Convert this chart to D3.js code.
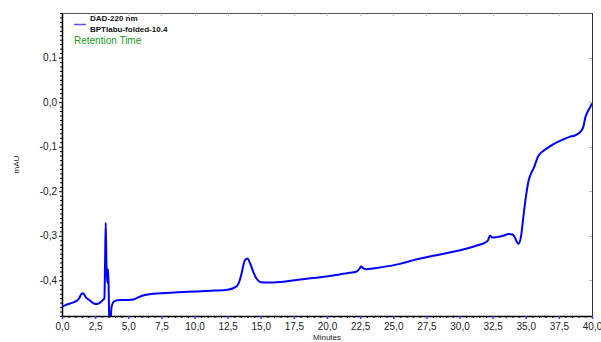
<!DOCTYPE html>
<html>
<head>
<meta charset="utf-8">
<script src="https://cdn.jsdelivr.net/npm/d3@7"></script>
<style>
  body { margin: 0; background: #fff; }
  text { font-family: "Liberation Sans", Arial, sans-serif; }
</style>
</head>
<body>
<div id="chart"></div>
<script>
// chromatogram trace (minutes, mAU)
var times = [0.0, 0.3, 0.6, 0.9, 1.1, 1.3, 1.45, 1.6, 1.8, 2.1, 2.4, 2.6, 2.87, 3.1, 3.2, 3.25, 3.3, 3.36, 3.42, 3.48, 3.53, 3.58, 3.66, 3.74, 3.85, 4.0,
  4.4, 5.0, 5.4, 5.7, 6.0, 6.6, 7.5, 8.5, 10.0, 11.5, 12.5, 13.15, 13.35, 13.55, 13.8, 14.0, 14.2, 14.45, 14.7, 15.0, 15.7,
  17.0, 18.0, 19.5, 20.5, 21.5, 22.25, 22.45, 22.57, 22.75, 23.0, 24.0, 25.5, 26.6, 28.0, 29.5, 30.5, 31.5, 31.9, 32.15,
  32.3, 32.5, 32.8, 33.3, 33.7, 34.0, 34.15, 34.3, 34.45, 34.65, 34.85, 35.0, 35.2, 35.4, 35.6, 35.95, 36.3, 36.8, 37.3,
  37.8, 38.3, 38.7, 39.0, 39.2, 39.35, 39.5, 39.7, 39.85, 40.0];
var values = [-0.459, -0.455, -0.452, -0.449, -0.446, -0.440, -0.431, -0.429, -0.438, -0.445, -0.452, -0.453, -0.450, -0.444, -0.440, -0.36, -0.271, -0.37, -0.405, -0.375, -0.43, -0.50, -0.49, -0.46, -0.450, -0.446,
  -0.444, -0.444, -0.443, -0.439, -0.435, -0.431, -0.429, -0.427, -0.425, -0.423, -0.421, -0.414, -0.405, -0.385, -0.355, -0.351, -0.362, -0.382, -0.397, -0.404, -0.405,
  -0.402, -0.398, -0.393, -0.389, -0.384, -0.380, -0.374, -0.369, -0.373, -0.375, -0.371, -0.363, -0.354, -0.345, -0.336, -0.329, -0.320, -0.316, -0.310,
  -0.300, -0.304, -0.303, -0.300, -0.296, -0.297, -0.302, -0.312, -0.318, -0.300, -0.250, -0.215, -0.178, -0.160, -0.148, -0.121, -0.110, -0.100, -0.091,
  -0.084, -0.078, -0.075, -0.070, -0.064, -0.055, -0.034, -0.020, -0.012, -0.003];
var xTicks = [0, 2.5, 5, 7.5, 10, 12.5, 15, 17.5, 20, 22.5, 25, 27.5, 30, 32.5, 35, 37.5, 40];
var yTicks = [-0.4, -0.3, -0.2, -0.1, 0.0, 0.1];
var legendLines = ["DAD-220 nm", "BPTIabu-folded-10.4"];

function draw() {
  var w = 601, h = 342;
  var pLeft = 62, pRight = 592, pTop = 13, pBottom = 316;
  var fmt = function(d) { return d3.format(".1f")(d).replace(".", ",").replace("\u2212", "-"); };

  var svg = d3.select("#chart").append("svg")
    .attr("width", w)
    .attr("height", h);

  var xScale = d3.scaleLinear().domain([0, 40]).range([pLeft, pRight]);
  var yScale = d3.scaleLinear().domain([-0.48, 0.2]).range([pBottom, pTop]);

  // frame: top and right in grey with small inward ticks
  svg.append("line").attr("x1", pLeft).attr("x2", pRight).attr("y1", pTop + 0.5).attr("y2", pTop + 0.5)
    .attr("stroke", "#555").attr("stroke-width", 1);
  svg.append("line").attr("x1", pRight + 0.5).attr("x2", pRight + 0.5).attr("y1", pTop).attr("y2", pBottom)
    .attr("stroke", "#333").attr("stroke-width", 1);
  svg.selectAll(".topTick").data(xTicks.slice(1, -1)).enter().append("line")
    .attr("x1", d => Math.round(xScale(d)) + 0.5).attr("x2", d => Math.round(xScale(d)) + 0.5)
    .attr("y1", pTop).attr("y2", pTop + 3)
    .attr("stroke", "#bbb");
  svg.selectAll(".rightTick").data(yTicks).enter().append("line")
    .attr("x1", pRight - 3).attr("x2", pRight)
    .attr("y1", d => Math.round(yScale(d)) + 0.5).attr("y2", d => Math.round(yScale(d)) + 0.5)
    .attr("stroke", "#bbb");

  // minor ticks
  var xMinor = d3.range(0, 40.01, 0.5).filter(d => xTicks.indexOf(d) < 0);
  var yMinor = d3.range(-0.48, 0.2001, 0.01).map(d => Math.round(d * 100) / 100).filter(d => yTicks.indexOf(d) < 0);

  svg.append("g")
    .attr("transform", `translate(0,${pBottom})`)
    .call(d3.axisBottom(xScale).tickValues(xMinor).tickSize(2).tickFormat(""))
    .call(g => g.select(".domain").remove());
  svg.append("g")
    .attr("transform", `translate(${pLeft},0)`)
    .call(d3.axisLeft(yScale).tickValues(yMinor).tickSize(2).tickFormat(""))
    .call(g => g.select(".domain").remove());

  // major axes
  var xAxis = svg.append("g")
    .attr("transform", `translate(0,${pBottom})`)
    .call(d3.axisBottom(xScale).tickValues(xTicks).tickSize(3).tickPadding(4).tickFormat(fmt).tickSizeOuter(0));
  xAxis.selectAll(".tick line").attr("stroke", "#3a3aff").attr("stroke-width", 1.5);
  xAxis.selectAll(".tick text").attr("font-size", 10).attr("fill", "#222");
  xAxis.select(".domain").attr("stroke", "#000").attr("stroke-width", 1.5);

  var yAxis = svg.append("g")
    .attr("transform", `translate(${pLeft},0)`)
    .call(d3.axisLeft(yScale).tickValues(yTicks).tickSize(3).tickPadding(2).tickFormat(fmt).tickSizeOuter(0));
  yAxis.selectAll(".tick text").attr("font-size", 10).attr("fill", "#222");
  yAxis.select(".domain").attr("stroke", "#000").attr("stroke-width", 1.5);

  // trace
  svg.append("clipPath").attr("id", "plotClip")
    .append("rect").attr("x", pLeft).attr("y", pTop).attr("width", pRight - pLeft).attr("height", pBottom - pTop);

  var line = d3.line()
    .x((d, i) => xScale(times[i]))
    .y(d => yScale(d))
    .curve(d3.curveMonotoneX);

  svg.append("path")
    .datum(values)
    .attr("clip-path", "url(#plotClip)")
    .attr("fill", "none")
    .attr("stroke", "#0000ff")
    .attr("stroke-width", 2)
    .attr("stroke-linejoin", "round")
    .attr("d", line);

  // legend
  svg.append("line").attr("x1", 74).attr("x2", 86).attr("y1", 24.5).attr("y2", 24.5)
    .attr("stroke", "#5555ff").attr("stroke-width", 1.5);
  svg.selectAll(".legendText").data(legendLines).enter().append("text")
    .attr("x", 90)
    .attr("y", (d, i) => 21 + i * 11)
    .attr("font-size", 8)
    .attr("font-weight", "bold")
    .attr("fill", "#111")
    .text(d => d);
  svg.append("text")
    .attr("x", 74).attr("y", 44)
    .attr("font-size", 10)
    .attr("fill", "#1a9a1a")
    .text("Retention Time");

  // axis titles
  svg.append("text")
    .attr("x", xScale(20)).attr("y", 340)
    .attr("text-anchor", "middle")
    .attr("font-size", 8)
    .attr("fill", "#222")
    .text("Minutes");
  svg.append("text")
    .attr("transform", `translate(19,${(pTop + pBottom) / 2}) rotate(-90)`)
    .attr("text-anchor", "middle")
    .attr("font-size", 8)
    .attr("fill", "#222")
    .text("mAU");
}

window.onload = draw;
</script>
</body>
</html>
